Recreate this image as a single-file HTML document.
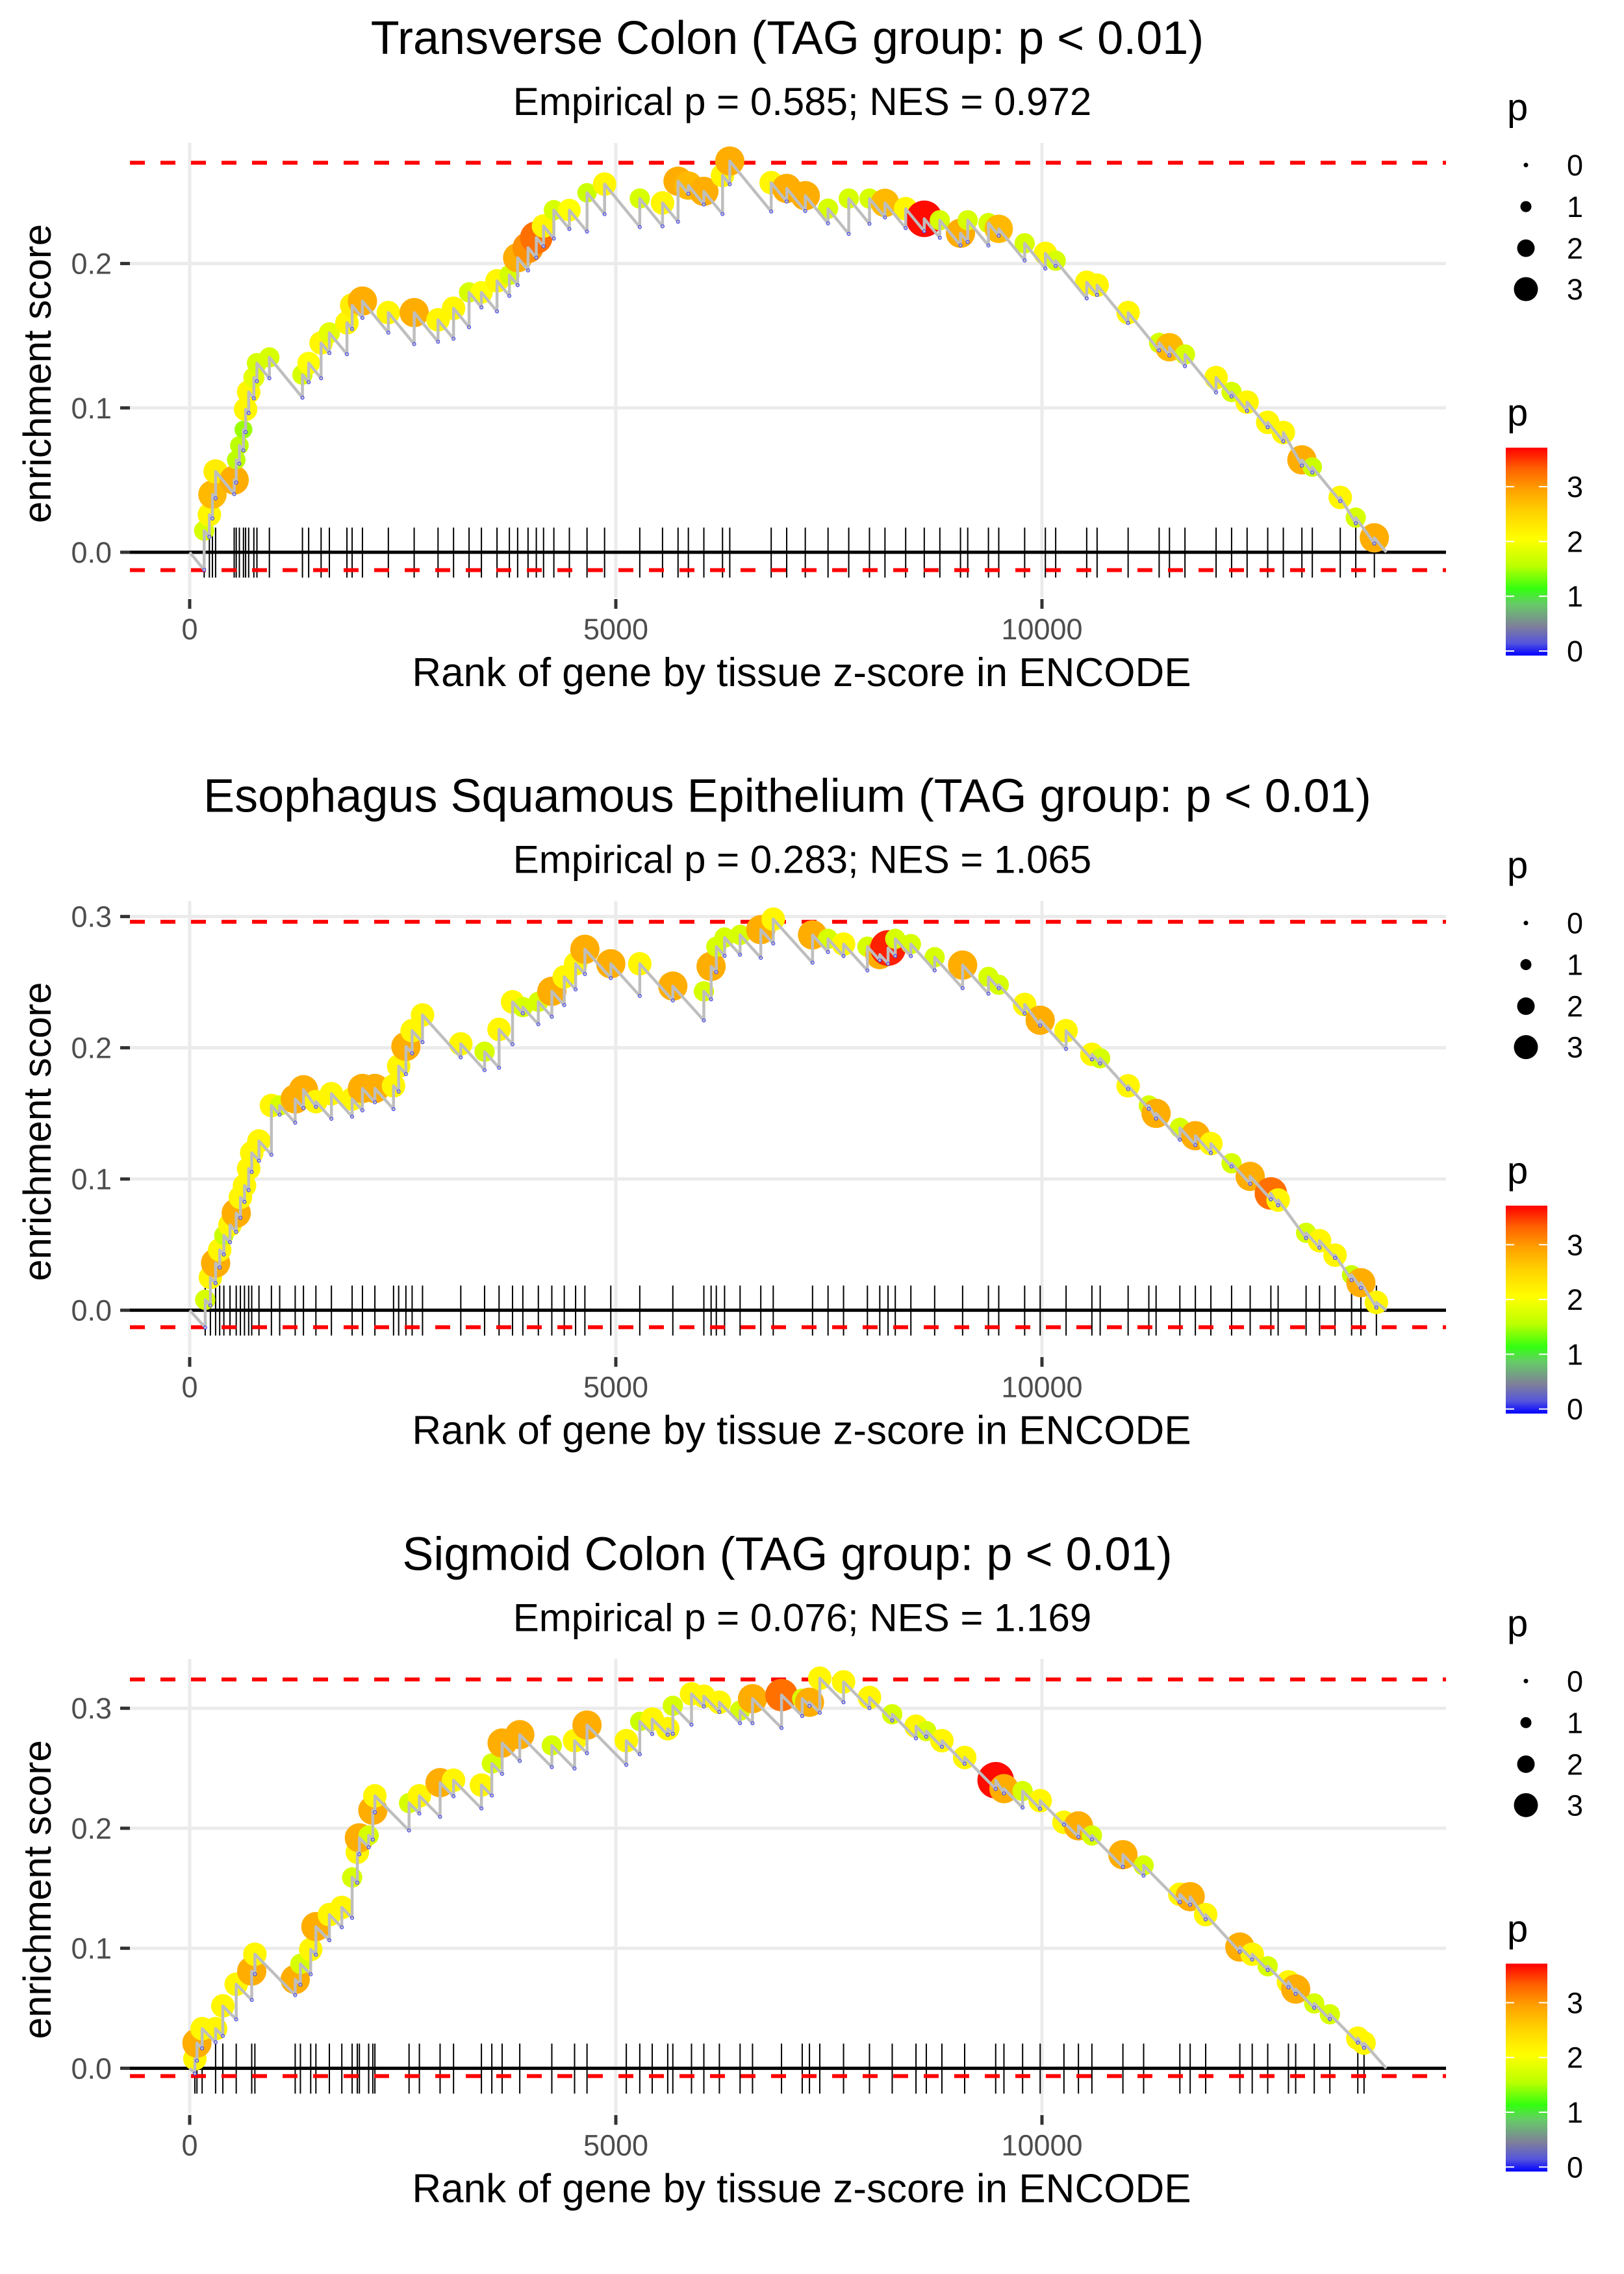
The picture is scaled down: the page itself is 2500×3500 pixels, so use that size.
<!DOCTYPE html>
<html><head><meta charset="utf-8"><title>Enrichment plots</title>
<style>html,body{margin:0;padding:0;background:#fff}svg{display:block}text{font-family:"Liberation Sans",Arial,sans-serif}</style>
</head><body>
<svg id="fig" xmlns="http://www.w3.org/2000/svg" width="2500" height="3500" viewBox="0 0 2500 3500">
<defs>
<linearGradient id="pgrad" x1="0" y1="1" x2="0" y2="0">
<stop offset="0" stop-color="#0000ff"/>
<stop offset="0.06" stop-color="#5555dd"/>
<stop offset="0.14" stop-color="#7f7f9a"/>
<stop offset="0.25" stop-color="#66cc66"/>
<stop offset="0.32" stop-color="#33ff11"/>
<stop offset="0.43" stop-color="#bbff00"/>
<stop offset="0.56" stop-color="#ffff00"/>
<stop offset="0.69" stop-color="#ffd200"/>
<stop offset="0.8" stop-color="#ffa000"/>
<stop offset="0.9" stop-color="#ff6000"/>
<stop offset="1" stop-color="#ff0000"/>
</linearGradient>
</defs>
</svg>
<script>
// ---------- data ----------
const xTicks = [0, 5000, 10000];
const yTicks1 = [0.0, 0.1, 0.2];
const yTicks2 = [0.0, 0.1, 0.2, 0.3];
const yTicks3 = [0.0, 0.1, 0.2, 0.3];
const titles = ["Transverse Colon (TAG group: p < 0.01)", "Esophagus Squamous Epithelium (TAG group: p < 0.01)", "Sigmoid Colon (TAG group: p < 0.01)"];
const subtitles = ["Empirical p = 0.585; NES = 0.972", "Empirical p = 0.283; NES = 1.065", "Empirical p = 0.076; NES = 1.169"];
const maxES = [0.2698, 0.296, 0.324];
const minES = [-0.0124, -0.0129, -0.0065];
const nGenes = [14040, 14040, 14040];
const sizeLegendValues = [0, 1, 2, 3];
const colorLegendValues = [0, 1, 2, 3];

const p1Rank = [170,231,267,304,522,546,583,631,656,692,753,789,935,1323,1396,1542,1639,1845,1906,2027,2331,2634,2914,3096,3278,3423,3606,3751,3848,3970,4067,4152,4273,4455,4662,4868,5281,5548,5730,5851,6033,6252,6337,6823,7005,7223,7490,7733,7976,8158,8401,8619,8802,9044,9129,9372,9493,9797,10040,10161,10525,10647,11011,11375,11496,11678,12043,12225,12407,12649,12832,13050,13172,13500,13682,13900];
const p1ES = [0.015,0.026,0.040,0.056,0.050,0.064,0.074,0.085,0.099,0.111,0.121,0.131,0.135,0.123,0.131,0.145,0.152,0.159,0.171,0.174,0.166,0.166,0.161,0.169,0.180,0.180,0.188,0.192,0.204,0.211,0.218,0.226,0.237,0.237,0.249,0.255,0.245,0.242,0.257,0.254,0.250,0.261,0.271,0.256,0.252,0.247,0.238,0.245,0.245,0.242,0.238,0.231,0.230,0.221,0.230,0.228,0.224,0.214,0.207,0.202,0.187,0.185,0.166,0.145,0.142,0.137,0.121,0.111,0.104,0.090,0.083,0.064,0.059,0.038,0.024,0.010];
const p1P = [1.8,2.2,2.8,2.3,2.9,1.6,1.6,1.5,2.2,2.2,1.9,1.8,1.8,1.8,2.1,2.2,1.9,2.2,2.3,2.9,2.2,2.9,2.2,2.2,1.8,2.1,2.2,1.8,2.9,3.1,3.3,2.2,1.8,2.1,1.7,2.2,1.8,2.2,2.9,2.8,2.9,2.2,2.9,2.2,2.9,2.9,1.8,1.8,1.8,2.8,2.2,3.8,1.8,2.9,1.8,1.8,2.8,1.8,2.2,1.8,2.2,2.2,2.2,1.8,2.8,1.8,2.2,1.8,2.2,2.2,2.2,2.9,1.7,2.2,1.8,2.9];

const p2Rank = [182,243,304,352,401,473,546,595,643,692,728,813,959,1056,1238,1335,1481,1663,1906,2027,2173,2392,2452,2537,2610,2732,3181,3460,3630,3788,3909,4091,4249,4395,4528,4637,4941,5281,5669,6033,6118,6179,6276,6458,6701,6847,7308,7490,7672,7952,8097,8194,8279,8462,8741,9069,9372,9493,9797,9979,10283,10586,10683,11011,11254,11339,11618,11800,11982,12225,12443,12686,12771,13099,13257,13439,13633,13742,13924];
const p2ES = [0.008,0.025,0.036,0.046,0.057,0.065,0.074,0.086,0.095,0.108,0.120,0.129,0.156,0.156,0.161,0.168,0.159,0.165,0.161,0.169,0.169,0.171,0.186,0.201,0.213,0.225,0.203,0.197,0.214,0.235,0.231,0.235,0.243,0.254,0.264,0.275,0.264,0.264,0.247,0.243,0.262,0.277,0.284,0.286,0.290,0.298,0.286,0.283,0.279,0.277,0.271,0.276,0.283,0.279,0.269,0.263,0.254,0.248,0.233,0.221,0.213,0.195,0.192,0.171,0.156,0.150,0.139,0.133,0.127,0.112,0.102,0.089,0.084,0.059,0.053,0.042,0.027,0.021,0.006];
const p2P = [1.8,2.2,2.9,2.2,1.7,2.2,2.9,2.2,2.2,2.2,2.2,2.2,2.2,1.8,2.9,2.9,2.2,2.2,2.2,2.9,2.9,2.2,2.2,2.9,2.2,2.2,2.2,1.8,2.2,2.2,1.8,1.8,2.9,2.2,2.2,2.9,2.9,2.2,2.9,1.8,2.9,1.8,1.8,1.8,2.9,2.2,2.9,1.8,2.2,1.8,2.9,3.7,1.8,1.8,1.8,2.9,1.8,1.8,2.2,2.9,2.2,2.2,1.8,2.2,1.8,2.9,1.8,2.9,2.2,1.8,2.9,3.3,2.2,1.8,2.2,2.2,1.7,2.9,2.2];

const p3Rank = [61,85,146,304,389,546,728,765,1238,1299,1420,1481,1639,1785,1906,1967,1991,2100,2149,2173,2574,2695,2938,3096,3423,3545,3666,3873,4249,4516,4662,5123,5281,5427,5609,5669,5888,6033,6215,6458,6604,6944,7187,7272,7393,7672,7976,8243,8522,8643,8826,9093,9457,9554,9773,9979,10258,10428,10586,10950,11193,11618,11739,11921,12322,12467,12649,12892,12977,13195,13378,13706,13779];
const p3ES = [0.008,0.021,0.033,0.033,0.052,0.070,0.081,0.095,0.074,0.087,0.099,0.118,0.128,0.134,0.159,0.180,0.192,0.194,0.215,0.227,0.221,0.227,0.238,0.240,0.236,0.254,0.271,0.278,0.269,0.273,0.286,0.273,0.289,0.291,0.283,0.302,0.312,0.310,0.305,0.298,0.308,0.311,0.308,0.305,0.325,0.322,0.309,0.295,0.285,0.281,0.273,0.259,0.240,0.233,0.231,0.223,0.205,0.202,0.194,0.178,0.169,0.145,0.143,0.128,0.101,0.095,0.085,0.072,0.066,0.054,0.045,0.025,0.021];
const p3P = [2.2,2.9,2.2,2.2,2.2,2.2,2.9,2.2,2.9,1.8,2.2,2.9,2.2,2.2,1.8,2.2,2.9,1.8,2.9,2.2,1.8,2.2,2.9,2.2,2.2,1.8,2.9,2.9,1.8,2.2,2.9,2.2,1.7,2.2,2.2,1.8,2.2,2.2,2.2,1.8,2.9,3.3,1.8,2.9,2.2,2.2,2.2,1.8,2.2,1.8,2.2,2.2,3.8,2.9,1.8,2.2,2.2,2.9,1.8,2.9,1.8,2.2,2.9,2.2,2.9,2.2,1.8,2.2,2.9,1.8,1.8,2.2,2.2];

const ranks = [p1Rank, p2Rank, p3Rank];
const esVals = [p1ES, p2ES, p3ES];
const pVals = [p1P, p2P, p3P];
const yTicksAll = [yTicks1, yTicks2, yTicks3];

// ---------- layout ----------
const NS = "http://www.w3.org/2000/svg";
const svg = document.getElementById('fig');
const panelH = 3500 / 3;
const PL = 200, PR = 2226, PT = 220, PB = 920;
const X0 = 292, XPER = 0.1312;
const Y0 = 850;
const yPerUnit = [2222, 2020, 1847];
const DECL = 0.000072;

function mk(tag, attrs, parent) {
  const e = document.createElementNS(NS, tag);
  for (const k in attrs) e.setAttribute(k, attrs[k]);
  (parent || svg).appendChild(e);
  return e;
}
function hex(c){return Math.round(c).toString(16).padStart(2,'0');}
const cStops = [[0,[0,0,255]],[0.25,[85,85,221]],[0.55,[127,127,154]],[0.95,[102,204,102]],[1.2,[51,255,17]],[1.6,[190,255,0]],[2.1,[255,255,0]],[2.6,[255,210,0]],[3.0,[255,160,0]],[3.4,[255,96,0]],[3.85,[255,0,0]]];
function pColor(p){
  if (p <= cStops[0][0]) return '#0000ff';
  for (let i=1;i<cStops.length;i++){
    if (p <= cStops[i][0]) {
      const a=cStops[i-1], b=cStops[i], t=(p-a[0])/(b[0]-a[0]);
      return '#'+[0,1,2].map(j=>hex(a[1][j]+(b[1][j]-a[1][j])*t)).join('');
    }
  }
  return '#ff0000';
}
function pRadius(p){ return 3.5 + 5.0*p; }

for (let k = 0; k < 3; k++) {
  const oy = k * panelH;
  const g = mk('g', {transform: 'translate(0,' + oy.toFixed(2) + ')'});
  
  
  const xs = r => X0 + r * XPER;
  const ys = v => Y0 - v * yPerUnit[k];

  const t = mk('text', {x: 1212, y: 83, 'font-size': 72, 'text-anchor': 'middle', fill: '#000'}, g);
  t.textContent = titles[k];
  
  
  const st = mk('text', {x: 1235, y: 177, 'font-size': 60, 'text-anchor': 'middle', fill: '#000'}, g);
  st.textContent = subtitles[k];
  
  

  for (const xv of xTicks) {
    const gl = mk('line', {x1: xs(xv), x2: xs(xv), y1: PT, y2: PB, stroke: '#ebebeb', 'stroke-width': 5}, g);
    
    
  }
  for (const yv of yTicksAll[k]) {
    const gl = mk('line', {x1: PL, x2: PR, y1: ys(yv), y2: ys(yv), stroke: '#ebebeb', 'stroke-width': 5}, g);
    
    
  }
  for (const r of ranks[k]) {
    const rl = mk('line', {x1: xs(r), x2: xs(r), y1: 812, y2: 889, stroke: '#000', 'stroke-width': 2}, g);
    
    
  }
  const zl = mk('line', {x1: PL, x2: PR, y1: ys(0), y2: ys(0), stroke: '#000', 'stroke-width': 5}, g);
  
  
  for (const v of [maxES[k], minES[k]]) {
    const rl = mk('line', {x1: PL, x2: PR, y1: ys(v), y2: ys(v), stroke: '#ff0000', 'stroke-width': 6, 'stroke-dasharray': '23 24'}, g);
    
    
  }
  const R = ranks[k], E = esVals[k], P = pVals[k];
  let pts = [[0, 0]];
  const troughs = [];
  let prevR = 0, prevE = 0;
  for (let i = 0; i < R.length; i++) {
    let tr = prevE - DECL * (R[i] - prevR);
    if (tr > E[i] - 0.002) tr = E[i] - 0.004;
    pts.push([R[i], tr]); troughs.push([R[i], tr]);
    pts.push([R[i], E[i]]);
    prevR = R[i]; prevE = E[i];
  }
  pts.push([nGenes[k], 0]);
  for (let i = 0; i < R.length; i++) {
    const c = mk('circle', {cx: xs(R[i]), cy: ys(E[i]), r: pRadius(P[i]) * 1.25, fill: pColor(P[i])}, g);
    
    
  }
  const pl = mk('polyline', {points: pts.map(p => xs(p[0]).toFixed(1) + ',' + ys(p[1]).toFixed(1)).join(' '), fill: 'none', stroke: '#bebebe', 'stroke-width': 4.5, 'stroke-linejoin': 'round'}, g);
  
  
  for (const tp of troughs) {
    const c = mk('circle', {cx: xs(tp[0]), cy: ys(tp[1]), r: 2.5, fill: 'none', stroke: '#3333ff', 'stroke-width': 1}, g);
    
    
  }
  for (const xv of xTicks) {
    const tk = mk('line', {x1: xs(xv), x2: xs(xv), y1: 922, y2: 937, stroke: '#333', 'stroke-width': 5}, g);
    
    
    const tl = mk('text', {x: xs(xv), y: 984, 'font-size': 45, 'text-anchor': 'middle', fill: '#4d4d4d'}, g);
    tl.textContent = String(xv);
    
    
  }
  for (const yv of yTicksAll[k]) {
    const tk = mk('line', {x1: 185, x2: 200, y1: ys(yv), y2: ys(yv), stroke: '#333', 'stroke-width': 5}, g);
    
    
    const tl = mk('text', {x: 172, y: ys(yv) + 16, 'font-size': 45, 'text-anchor': 'end', fill: '#4d4d4d'}, g);
    tl.textContent = yv.toFixed(1);
    
    
  }
  const xt = mk('text', {x: 1234, y: 1056, 'font-size': 62, 'text-anchor': 'middle', fill: '#000'}, g);
  xt.textContent = 'Rank of gene by tissue z-score in ENCODE';
  
  
  const yt = mk('text', {x: 0, y: 0, 'font-size': 60, 'text-anchor': 'middle', fill: '#000', transform: 'translate(78,575) rotate(-90)'}, g);
  yt.textContent = 'enrichment score';
  
  

  const sl = mk('text', {x: 2320, y: 185, 'font-size': 58, fill: '#000'}, g);
  sl.textContent = 'p';
  
  
  const sizeYs = [254, 318, 382, 445];
  sizeLegendValues.forEach((v, i) => {
    const c = mk('circle', {cx: 2349, cy: sizeYs[i], r: pRadius(v), fill: '#000'}, g);
    
    
    const tl = mk('text', {x: 2412, y: sizeYs[i] + 16, 'font-size': 45, fill: '#000'}, g);
    tl.textContent = String(v);
    
    
  });
  const cl = mk('text', {x: 2320, y: 655, 'font-size': 58, fill: '#000'}, g);
  cl.textContent = 'p';
  
  
  const cb = mk('rect', {x: 2318, y: 689, width: 64, height: 320, fill: 'url(#pgrad)'}, g);
  
  
  const cbY = v => 1002 - v * 84.3;
  colorLegendValues.forEach(v => {
    const a = mk('line', {x1: 2318, x2: 2331, y1: cbY(v), y2: cbY(v), stroke: '#fff', 'stroke-width': 2}, g);
    
    
    const b = mk('line', {x1: 2369, x2: 2382, y1: cbY(v), y2: cbY(v), stroke: '#fff', 'stroke-width': 2}, g);
    
    
    const tl = mk('text', {x: 2412, y: cbY(v) + 16, 'font-size': 45, fill: '#000'}, g);
    tl.textContent = String(v);
    
    
  });
}
</script>
</body></html>
